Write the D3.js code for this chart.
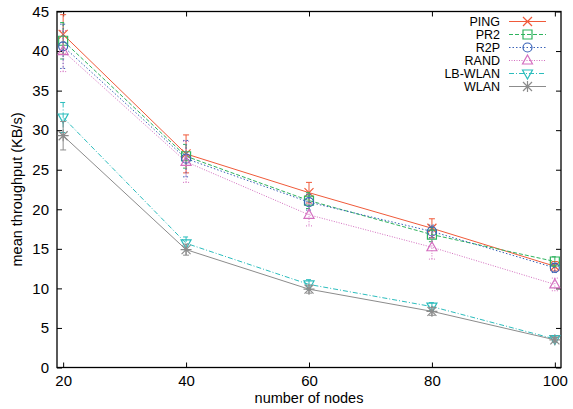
<!DOCTYPE html>
<html><head><meta charset="utf-8">
<script src="https://cdn.jsdelivr.net/npm/d3@7"></script>
<style>body{margin:0;background:#fff}svg{display:block}text{font-family:"Liberation Sans",Arial,sans-serif;fill:#000}</style>
</head><body><svg id="c" width="573" height="409"></svg>
<script>
const nodes = [20, 40, 60, 80, 100];
const xTicks = [20, 40, 60, 80, 100];
const yTicks = [0, 5, 10, 15, 20, 25, 30, 35, 40, 45];
const seriesNames = ["PING", "PR2", "R2P", "RAND", "LB-WLAN", "WLAN"];
const ping   = [42.1, 27.0, 22.1, 17.6, 12.8];
const pr2    = [41.3, 26.7, 21.1, 16.8, 13.4];
const r2p    = [40.6, 26.4, 20.9, 17.2, 12.6];
const rand   = [40.0, 26.0, 19.3, 15.2, 10.5];
const lbwlan = [31.6, 15.7, 10.5, 7.7, 3.6];
const wlan   = [29.3, 14.9, 9.9, 7.1, 3.5];
const pingErr   = [2.5, 2.4, 1.3, 1.2, 0.6];
const pr2Err    = [2.3, 1.5, 1.0, 0.9, 0.6];
const r2pErr    = [2.8, 2.3, 1.0, 0.8, 0.6];
const randErr   = [2.6, 2.6, 1.4, 1.5, 0.8];
const lbwlanErr = [1.9, 0.8, 0.6, 0.5, 0.3];
const wlanErr   = [1.8, 0.7, 0.5, 0.5, 0.3];

const values = [ping, pr2, r2p, rand, lbwlan, wlan];
const errs = [pingErr, pr2Err, r2pErr, randErr, lbwlanErr, wlanErr];
const colors = ["#f05a3a", "#2fb35e", "#3a63b8", "#d46fc0", "#2bbdbd", "#8c8c8c"];
const dashes = [null, "4,2", "1.5,2", "1,1.5", "5,2,1,2", null];
const marks = ["x", "square", "circle", "tri", "tridown", "star"];

const L = 57, R = 561, T = 11.5, B = 367.5;
const svg = d3.select("#c");
const x = d3.scaleLinear().domain([19, 101]).range([L, R]);
const y = d3.scaleLinear().domain([0, 45]).range([B, T]);

const axB = svg.append("g").attr("transform", `translate(0,${B})`)
  .call(d3.axisBottom(x).tickValues(xTicks).tickSize(-5).tickPadding(8).tickFormat(d3.format("d")));
const axT = svg.append("g").attr("transform", `translate(0,${T})`)
  .call(d3.axisTop(x).tickValues(xTicks).tickSize(-5).tickFormat(""));
const axL = svg.append("g").attr("transform", `translate(${L},0)`)
  .call(d3.axisLeft(y).tickValues(yTicks).tickSize(-5).tickPadding(8));
const axR = svg.append("g").attr("transform", `translate(${R},0)`)
  .call(d3.axisRight(y).tickValues(yTicks).tickSize(-5).tickFormat(""));
[axB, axT, axL, axR].forEach(a => {
  a.select(".domain").remove();
  a.selectAll("line").attr("stroke", "#000").attr("stroke-width", 1);
  a.selectAll("text").attr("font-size", 15).attr("font-family", "Liberation Sans, Arial, sans-serif").attr("fill", "#000");
});
svg.append("rect").attr("x", L).attr("y", T).attr("width", R - L).attr("height", B - T)
  .attr("fill", "none").attr("stroke", "#000").attr("stroke-width", 1.3);

svg.append("text").attr("x", (L + R) / 2).attr("y", 403).attr("text-anchor", "middle")
  .attr("font-size", 14.5).text("number of nodes");
svg.append("text").attr("transform", `translate(22,${(T + B) / 2}) rotate(-90)`).attr("text-anchor", "middle")
  .attr("font-size", 14.5).text("mean throughput (KB/s)");

function drawMark(g, type, cx, cy, color) {
  const s = 4.5;
  const p = g.append("path").attr("stroke", color).attr("stroke-width", 1.2).attr("fill", "none");
  if (type === "x") {
    p.attr("d", `M${cx - s},${cy - s}L${cx + s},${cy + s}M${cx - s},${cy + s}L${cx + s},${cy - s}`);
  } else if (type === "square") {
    p.attr("d", `M${cx - s},${cy - s}h${2 * s}v${2 * s}h${-2 * s}Z`);
  } else if (type === "circle") {
    p.attr("d", d3.arc()({innerRadius: 0, outerRadius: s, startAngle: 0, endAngle: 2 * Math.PI}))
      .attr("transform", `translate(${cx},${cy})`);
  } else if (type === "tri") {
    p.attr("d", `M${cx},${cy - s - 1}L${cx + s + 0.5},${cy + s - 1}L${cx - s - 0.5},${cy + s - 1}Z`);
  } else if (type === "tridown") {
    p.attr("d", `M${cx},${cy + s + 1}L${cx + s + 0.5},${cy - s + 1}L${cx - s - 0.5},${cy - s + 1}Z`);
  } else if (type === "star") {
    p.attr("d", `M${cx - s},${cy - s}L${cx + s},${cy + s}M${cx - s},${cy + s}L${cx + s},${cy - s}M${cx - s - 1},${cy}L${cx + s + 1},${cy}M${cx},${cy - s - 1}L${cx},${cy + s + 1}`);
  }
}

const line = d3.line().x(d => x(d[0])).y(d => y(d[1]));
const plot = svg.append("g");
values.forEach((vals, i) => {
  const g = plot.append("g");
  const pts = nodes.map((n, j) => [n, vals[j]]);
  g.append("path").attr("d", line(pts)).attr("fill", "none").attr("stroke", colors[i])
    .attr("stroke-width", 1).attr("stroke-dasharray", dashes[i]);
  nodes.forEach((n, j) => {
    const cx = x(n), y1 = y(vals[j] + errs[i][j]), y2 = y(vals[j] - errs[i][j]);
    g.append("path").attr("d", `M${cx},${y1}L${cx},${y2}M${cx - 3},${y1}L${cx + 3},${y1}M${cx - 3},${y2}L${cx + 3},${y2}`)
      .attr("stroke", colors[i]).attr("stroke-width", 1).attr("fill", "none").attr("stroke-dasharray", dashes[i]);
    drawMark(g, marks[i], cx, y(vals[j]), colors[i]);
  });
});

const lg = svg.append("g");
seriesNames.forEach((name, i) => {
  const yy = 21.5 + i * 13;
  lg.append("text").attr("x", 500).attr("y", yy + 4.5).attr("text-anchor", "end").attr("font-size", 12.5).text(name);
  lg.append("line").attr("x1", 509).attr("x2", 546).attr("y1", yy).attr("y2", yy)
    .attr("stroke", colors[i]).attr("stroke-width", 1).attr("stroke-dasharray", dashes[i]);
  drawMark(lg, marks[i], 527.5, yy, colors[i]);
});
</script></body></html>
